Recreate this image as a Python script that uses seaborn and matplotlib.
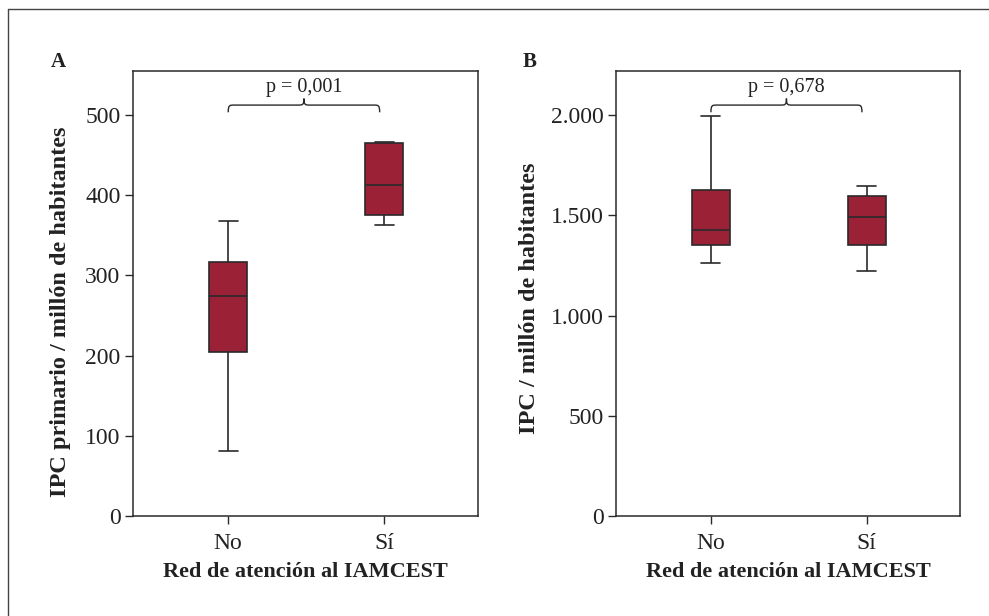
import numpy as np
import pandas as pd
import matplotlib
matplotlib.use("Agg")
import matplotlib.pyplot as plt
import seaborn as sns
from matplotlib.path import Path
from matplotlib.patches import PathPatch
from matplotlib.lines import Line2D

# ---------------- data (five-number summaries) ----------------
categories = ["No", "Sí"]
a_no = [81, 204, 274, 317, 368]
a_si = [363, 375, 413, 465, 467]
b_no = [1262, 1352, 1426, 1626, 1995]
b_si = [1222, 1352, 1491, 1596, 1646]
a_ticks = [0, 100, 200, 300, 400, 500]
a_ticklabels = ["0", "100", "200", "300", "400", "500"]
b_ticks = [0, 500, 1000, 1500, 2000]
b_ticklabels = ["0", "500", "1.000", "1.500", "2.000"]
p_a = "p = 0,001"
p_b = "p = 0,678"

df_a = pd.DataFrame({"grupo": [categories[0]] * len(a_no) + [categories[1]] * len(a_si),
                     "valor": a_no + a_si})
df_b = pd.DataFrame({"grupo": [categories[0]] * len(b_no) + [categories[1]] * len(b_si),
                     "valor": b_no + b_si})

sns.set_style("white")
plt.rcParams["font.family"] = ["Liberation Serif", "DejaVu Serif"]

W, H = 989, 616
fig = plt.figure(figsize=(W / 100, H / 100), dpi=100)

fill = "#9b2136"
edge = "#2a2a2a"
txt = "#222222"

def fx(px):
    return px / W

def fy(py):
    return 1 - py / H

ax_a = fig.add_axes([fx(133), fy(516), fx(478) - fx(133), fy(71) - fy(516)])
ax_b = fig.add_axes([fx(616), fy(516), fx(960) - fx(616), fy(71) - fy(516)])


def brace(ax, x0, x1, y, h, text):
    xm = (x0 + x1) / 2
    d = (x1 - x0) * 0.04
    verts = [
        (x0, y - h), (x0, y), (x0 + d * 0.2, y), (x0 + d, y),
        (xm - d, y),
        (xm - d * 0.2, y), (xm, y), (xm, y + h * 0.9),
        (xm, y), (xm + d * 0.2, y), (xm + d, y),
        (x1 - d, y),
        (x1 - d * 0.2, y), (x1, y), (x1, y - h),
    ]
    codes = [Path.MOVETO, Path.CURVE4, Path.CURVE4, Path.CURVE4,
             Path.LINETO,
             Path.CURVE4, Path.CURVE4, Path.CURVE4,
             Path.CURVE4, Path.CURVE4, Path.CURVE4,
             Path.LINETO,
             Path.CURVE4, Path.CURVE4, Path.CURVE4]
    ax.add_patch(PathPatch(Path(verts, codes), fill=False, lw=1.0, ec=edge,
                           clip_on=False))
    ax.text(xm, y + h * 2.5, text, ha="center", va="center", fontsize=14.5, color=txt)


for ax, df, ticks, labels, ylim, ylabel, ptxt, yb, hb, lx, ly in [
    (ax_a, df_a, a_ticks, a_ticklabels, 555, "IPC primario / millón de habitantes", p_a, 512.5, 9, -0.18, 0.458),
    (ax_b, df_b, b_ticks, b_ticklabels, 2220, "IPC / millón de habitantes", p_b, 2050, 36, -0.222, 0.49),
]:
    sns.boxplot(data=df, x="grupo", y="valor", order=categories, ax=ax,
                color=fill, linecolor=edge, linewidth=1.2, width=0.245,
                whis=(0, 100), saturation=1, showfliers=False)
    ax.set_ylim(0, ylim)
    ax.set_xlim(-0.61, 1.6)
    ax.set_yticks(ticks)
    ax.set_yticklabels(labels)
    ax.tick_params(axis="both", direction="out", length=6, width=1.0, color=edge,
                   labelsize=17, labelcolor=txt, left=True, bottom=True)
    ax.tick_params(axis="y", pad=3)
    ax.tick_params(axis="x", pad=6)
    for s in ax.spines.values():
        s.set_color(edge)
        s.set_linewidth(1.1)
    ax.set_xlabel("Red de atención al IAMCEST", fontsize=16, fontweight="bold",
                  color=txt, labelpad=6)
    ax.set_ylabel(ylabel, fontsize=17.5, fontweight="bold", color=txt)
    ax.yaxis.set_label_coords(lx, ly)
    brace(ax, 0, 0.97, yb, hb, ptxt)

fig.text(fx(58), fy(62), "A", fontsize=15, fontweight="bold", ha="center", va="center", color=txt)
fig.text(fx(530), fy(62), "B", fontsize=15, fontweight="bold", ha="center", va="center", color=txt)

# outer frame (top and left edges visible)
fig.add_artist(Line2D([fx(8), 1.0], [fy(9), fy(9)], transform=fig.transFigure, color="#444444", lw=1.0))
fig.add_artist(Line2D([fx(8), fx(8)], [fy(9), 0.0], transform=fig.transFigure, color="#444444", lw=1.0))

fig.savefig("out.png", dpi=100)
